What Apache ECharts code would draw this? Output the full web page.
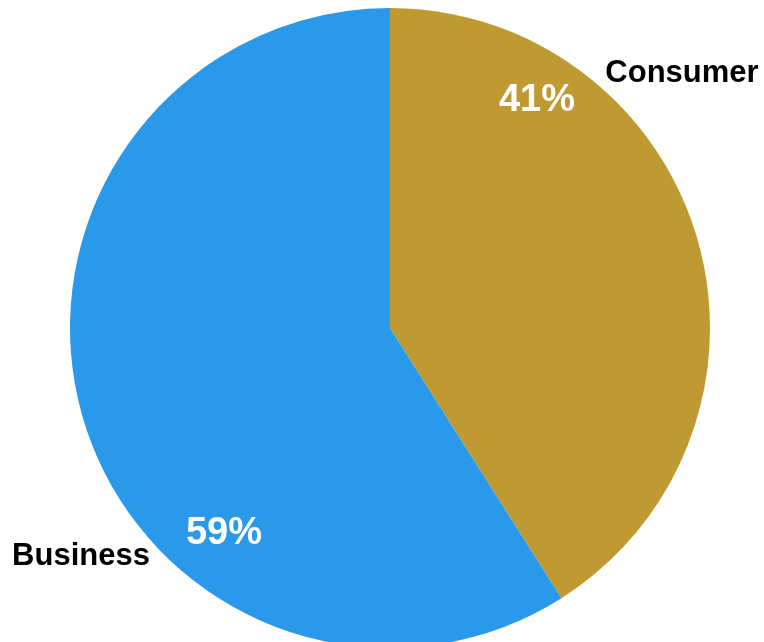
<!DOCTYPE html>
<html>
<head>
<meta charset="utf-8">
<script src="https://cdn.jsdelivr.net/npm/echarts@6/dist/echarts.min.js"></script>
<style>
  html, body { margin: 0; padding: 0; background: #ffffff; }
  #chart { width: 764px; height: 642px; }
</style>
</head>
<body>
<div id="chart"></div>
<script>
// Segment names and their shares (percent)
const categories = ['Consumer', 'Business'];
const shares = [41, 59];
const sliceColors = ['#BF9A33', '#2B99EA'];

// Where each label sits on the canvas
const shareLabelSpots = [[537, 101], [224, 534]];
const nameLabelSpots = [[682, 73], [81, 556]];

const font = '"Liberation Sans", Arial, sans-serif';
const pieData = categories.map((name, i) => ({
  name: name,
  value: shares[i],
  itemStyle: { color: sliceColors[i] }
}));

const chart = echarts.init(document.getElementById('chart'), null, { renderer: 'canvas' });
chart.setOption({
  animation: false,
  backgroundColor: '#ffffff',
  // Segment names placed beside the pie
  graphic: categories.map((name, i) => ({
    type: 'text',
    x: nameLabelSpots[i][0],
    y: nameLabelSpots[i][1],
    silent: true,
    style: {
      text: name,
      fill: '#000000',
      font: 'bold 31px ' + font,
      textAlign: 'center',
      textVerticalAlign: 'middle'
    }
  })),
  series: [
    {
      type: 'pie',
      center: [390, 328],
      radius: 320,
      startAngle: 90,
      clockwise: true,
      data: pieData,
      label: {
        show: true,
        position: 'inside',
        formatter: '{c}%',
        color: '#ffffff',
        fontFamily: font,
        fontWeight: 'bold',
        fontSize: 38
      },
      labelLine: { show: false },
      labelLayout: function (p) {
        const s = shareLabelSpots[p.dataIndex];
        return { x: s[0], y: s[1], align: 'center', verticalAlign: 'middle' };
      },
      emphasis: { disabled: true }
    }
  ]
});
</script>
</body>
</html>
